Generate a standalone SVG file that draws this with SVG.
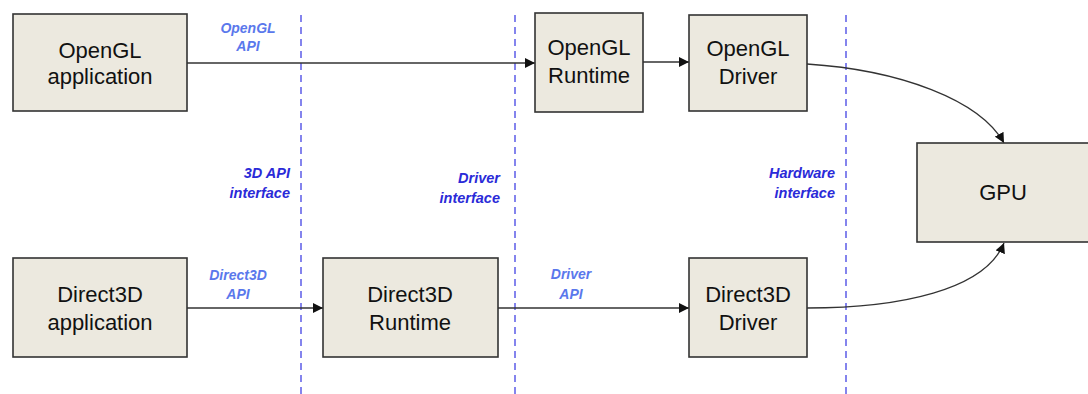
<svg xmlns="http://www.w3.org/2000/svg" width="1088" height="394" viewBox="0 0 1088 394">
<style>
.box{fill:#ece9df;stroke:#333;stroke-width:1.6}
.bt{font-family:"Liberation Sans",Arial,sans-serif;font-size:22px;fill:#111;text-anchor:middle}
.api{font-family:"Liberation Sans",Arial,sans-serif;font-size:14px;font-weight:bold;font-style:italic;fill:#5a78ec;text-anchor:middle}
.ifc{font-family:"Liberation Sans",Arial,sans-serif;font-size:14.5px;font-weight:bold;font-style:italic;fill:#2a2ad8;text-anchor:end}
.dash{stroke:#5c5ce8;stroke-width:1.5;stroke-dasharray:7 5;fill:none}
.con{stroke:#333;stroke-width:1.3;fill:none;marker-end:url(#ah)}
</style>
<defs>
<marker id="ah" viewBox="0 0 10 10" refX="10" refY="5" markerWidth="10" markerHeight="10" markerUnits="userSpaceOnUse" orient="auto">
<path d="M0,0 L10,5 L0,10 z" fill="#111"/>
</marker>
</defs>
<rect width="1088" height="394" fill="#fff"/>
<g id="dividers">
<line class="dash" x1="301" y1="15" x2="301" y2="394"/>
<line class="dash" x1="515" y1="15" x2="515" y2="394"/>
<line class="dash" x1="846" y1="15" x2="846" y2="394"/>
</g>
<g id="labels">
<text class="api" x="248" y="33">OpenGL</text>
<text class="api" x="248" y="51">API</text>
<text class="api" x="238" y="280">Direct3D</text>
<text class="api" x="238" y="299">API</text>
<text class="api" x="571" y="279">Driver</text>
<text class="api" x="571" y="299">API</text>
<text class="ifc" x="290" y="178">3D API</text>
<text class="ifc" x="290" y="198">interface</text>
<text class="ifc" x="500" y="183">Driver</text>
<text class="ifc" x="500" y="203">interface</text>
<text class="ifc" x="835" y="178">Hardware</text>
<text class="ifc" x="835" y="198">interface</text>
</g>
<g id="connectors">
<line class="con" x1="187" y1="63" x2="535" y2="63"/>
<line class="con" x1="643" y1="62" x2="689" y2="62"/>
<line class="con" x1="187" y1="308" x2="323" y2="308"/>
<line class="con" x1="498" y1="308" x2="689" y2="308"/>
<path class="con" d="M807,64 C900,70 980,100 1004,143"/>
<path class="con" d="M807,308 C900,308 985,290 1004,243"/>
</g>
<g id="opengl-app">
<rect class="box" x="13" y="14" width="174" height="97"/>
<text class="bt" x="100" y="58">OpenGL</text>
<text class="bt" x="100" y="84">application</text>
</g>
<g id="opengl-runtime">
<rect class="box" x="535" y="13" width="108" height="99"/>
<text class="bt" x="589" y="55">OpenGL</text>
<text class="bt" x="589" y="83">Runtime</text>
</g>
<g id="opengl-driver">
<rect class="box" x="689" y="15" width="118" height="96"/>
<text class="bt" x="748" y="56">OpenGL</text>
<text class="bt" x="748" y="84">Driver</text>
</g>
<g id="gpu">
<rect class="box" x="917" y="143" width="175" height="99"/>
<text class="bt" x="1003" y="200">GPU</text>
</g>
<g id="d3d-app">
<rect class="box" x="13" y="258" width="174" height="99"/>
<text class="bt" x="100" y="302">Direct3D</text>
<text class="bt" x="100" y="330">application</text>
</g>
<g id="d3d-runtime">
<rect class="box" x="323" y="258" width="175" height="99"/>
<text class="bt" x="410" y="302">Direct3D</text>
<text class="bt" x="410" y="330">Runtime</text>
</g>
<g id="d3d-driver">
<rect class="box" x="689" y="258" width="118" height="99"/>
<text class="bt" x="748" y="302">Direct3D</text>
<text class="bt" x="748" y="330">Driver</text>
</g>
</svg>
